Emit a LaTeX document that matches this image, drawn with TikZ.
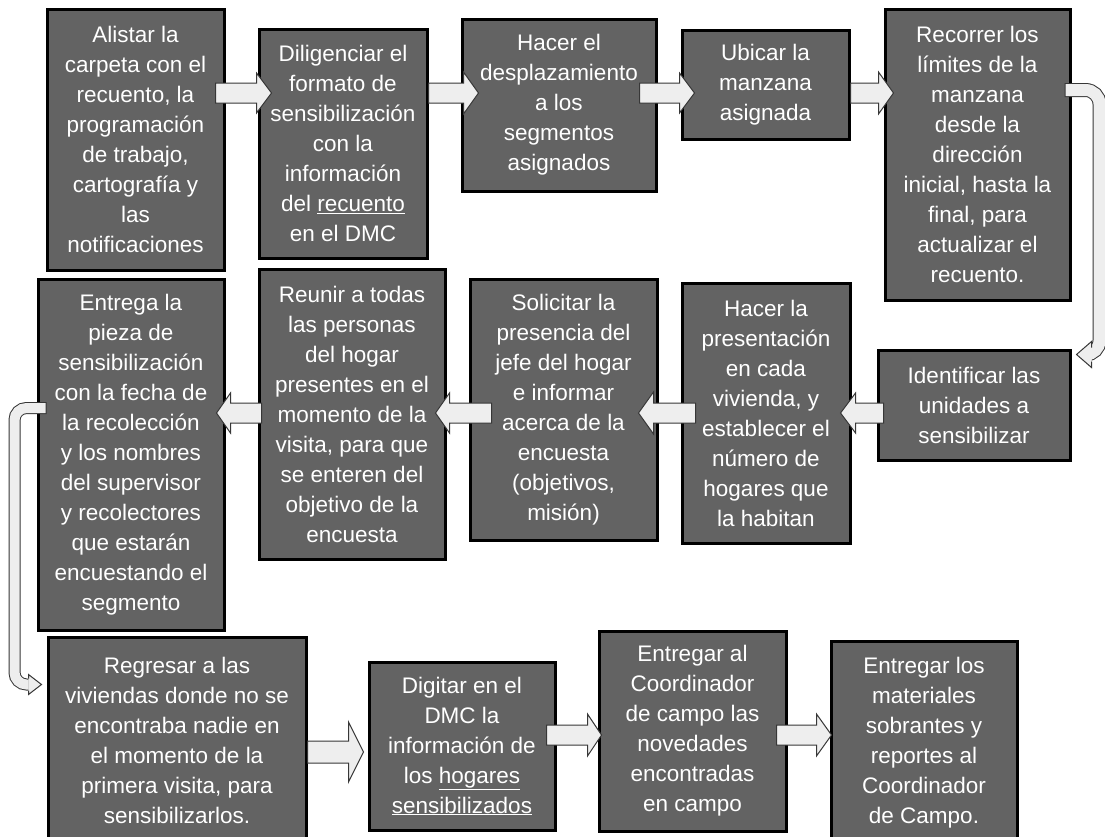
\documentclass[tikz,border=0pt]{standalone}
\usepackage{fontspec}
\setmainfont{Liberation Sans}
\usetikzlibrary{calc}

\definecolor{boxgray}{RGB}{99,99,99}
\definecolor{arrowgray}{RGB}{238,238,238}
\definecolor{edgegray}{RGB}{55,55,55}

\tikzset{
	box/.style={draw=black, line width=3pt, fill=boxgray, text=white, align=center,
		inner sep=0pt, font=\fontsize{22.5}{30}\selectfont},
	fatarrow/.style={draw=edgegray, fill=arrowgray, line width=1pt, line join=miter},
	bandout/.style={draw=edgegray, line width=14pt, rounded corners=14pt},
	bandin/.style={draw=arrowgray, line width=12pt, rounded corners=14pt, shorten <=1pt},
}

% block arrow: from, to, shaft half, head half, head length
\newcommand{\harrow}[5]{%
	\draw[fatarrow] let \p1=#1, \p2=#2, \n1={sign(\x2-\x1)} in
		(\x1,\y2+#3) -- ({\x2-\n1*#5},\y2+#3) -- ({\x2-\n1*#5},\y2+#4) -- (\x2,\y2)
		-- ({\x2-\n1*#5},\y2-#4) -- ({\x2-\n1*#5},\y2-#3) -- (\x1,\y2-#3) -- cycle;
}

\begin{document}
\begin{tikzpicture}[x=1pt, y=-1pt]
			\useasboundingbox (0,0) rectangle (1105,836);
			\clip (0,0) rectangle (1105,836);
			
			% levels of the arrows
			\coordinate (row1) at (0,93);
			\coordinate (row2) at (0,413);
			\coordinate (row3a) at (0,752);
			\coordinate (row3b) at (0,735);
			
			% DRAW BOXES
			\node[box, minimum width=177pt, minimum height=261pt] (n1) at (135.5,139.5) {Alistar la\\carpeta con el\\recuento, la\\programación\\de trabajo,\\cartografía y\\las\\notificaciones};
			\node[box, minimum width=168pt, minimum height=229pt] (n2) at (343,143.5) {Diligenciar el\\formato de\\sensibilización\\con la\\información\\del \underline{recuento}\\en el DMC};
			\node[box, minimum width=194pt, minimum height=172pt] (n3) at (559,105) {Hacer el\\desplazamiento\\a los\\segmentos\\asignados};
			\node[box, minimum width=167pt, minimum height=109pt] (n4) at (765.5,84.5) {Ubicar la\\manzana\\asignada};
			\node[box, minimum width=185pt, minimum height=291pt] (n5) at (977.5,154.5) {Recorrer los\\límites de la\\manzana\\desde la\\dirección\\inicial, hasta la\\final, para\\actualizar el\\recuento.};
			\node[box, minimum width=192pt, minimum height=110pt] (n6) at (974,405) {Identificar las\\unidades a\\sensibilizar};
			\node[box, minimum width=168pt, minimum height=260pt] (n7) at (766,413) {Hacer la\\presentación\\en cada\\vivienda, y\\establecer el\\número de\\hogares que\\la habitan};
			\node[box, minimum width=187pt, minimum height=261pt] (n8) at (563.5,409.5) {Solicitar la\\presencia del\\jefe del hogar\\e informar\\acerca de la\\encuesta\\(objetivos,\\misión)};
			\node[box, minimum width=186pt, minimum height=290pt] (n9) at (352,414) {Reunir a todas\\las personas\\del hogar\\presentes en el\\momento de la\\visita, para que\\se enteren del\\objetivo de la\\encuesta};
			\node[box, minimum width=186pt, minimum height=351pt] (n10) at (131,454.5) {Entrega la\\pieza de\\sensibilización\\con la fecha de\\la recolección\\y los nombres\\del supervisor\\y recolectores\\que estarán\\encuestando el\\segmento};
			\node[box, minimum width=258pt, minimum height=206pt] (n11) at (177,740) {Regresar a las\\viviendas donde no se\\encontraba nadie en\\el momento de la\\primera visita, para\\sensibilizarlos.};
			\node[box, minimum width=186pt, minimum height=168pt] (n12) at (462,746) {Digitar en el\\DMC la\\información de\\los \underline{hogares}\\\underline{sensibilizados}};
			\node[box, minimum width=187pt, minimum height=200pt] (n13) at (692.5,731) {Entregar al\\Coordinador\\de campo las\\novedades\\encontradas\\en campo};
			\node[box, minimum width=186pt, minimum height=204pt] (n14) at (924,743) {Entregar los\\materiales\\sobrantes y\\reportes al\\Coordinador\\de Campo.};
			
			% DRAW ARROWS
			\harrow{($(n1.east |- row1)+(-10,0)$)}{($(n2.west |- row1)+(14,0)$)}{10pt}{20pt}{15pt}
			\harrow{(n2.east |- row1)}{($(n3.west |- row1)+(18,0)$)}{10pt}{21pt}{15pt}
			\harrow{($(n3.east |- row1)+(-18,0)$)}{($(n4.west |- row1)+(14,0)$)}{10pt}{20pt}{15pt}
			\harrow{(n4.east |- row1)}{($(n5.west |- row1)+(10,0)$)}{10pt}{21pt}{15pt}
			
			\harrow{($(n6.west |- row2)+(7,0)$)}{($(n7.east |- row2)+(-11,0)$)}{10pt}{20pt}{15pt}
			\harrow{($(n7.west |- row2)+(15,0)$)}{($(n8.east |- row2)+(-20,0)$)}{10pt}{21pt}{15pt}
			\harrow{($(n8.west |- row2)+(23,0)$)}{($(n9.east |- row2)+(-11,0)$)}{10pt}{20pt}{14pt}
			\harrow{($(n9.west |- row2)+(4,0)$)}{($(n10.east |- row2)+(-9,0)$)}{10pt}{20pt}{14pt}
			
			\harrow{(n11.east |- row3a)}{($(n12.west |- row3a)+(-4,0)$)}{11pt}{30pt}{15pt}
			\harrow{($(n12.east |- row3b)+(-10,0)$)}{($(n13.west |- row3b)+(4,0)$)}{10pt}{21pt}{14pt}
			\harrow{($(n13.east |- row3b)+(-11,0)$)}{($(n14.west |- row3b)+(2,0)$)}{10pt}{21pt}{15pt}
			
			% curved arrow n5 -> n6
			\coordinate (e1) at ($(n5.east |- row1)+(-7,-3)$);
			\coordinate (e2) at ($(n6.north east)+(28,6)$);
			\coordinate (e3) at ($(n6.north east)+(20,6)$);
			\coordinate (e4) at ($(n6.north east)+(5,6)$);
			\draw[bandout] (e1) -| (e2) -- (e3);
			\draw[bandin] (e1) -| (e2) -- (e3);
			\filldraw[fatarrow] ($(e3)+(0,-7)$) -- ($(e3)+(0,-13)$) -- (e4) -- ($(e3)+(0,13)$) -- ($(e3)+(0,7)$);
			
			% curved arrow n10 -> n11
			\coordinate (j1) at ($(n10.west |- row2)+(10,-5)$);
			\coordinate (j2) at ($(n11.north west)+(-32,49)$);
			\coordinate (j3) at ($(n11.north west)+(-18,49)$);
			\coordinate (j4) at ($(n11.north west)+(-5,49)$);
			\draw[bandout, line width=12pt, rounded corners=12pt] (j1) -| (j2) -- (j3);
			\draw[bandin, line width=10pt, rounded corners=12pt] (j1) -| (j2) -- (j3);
			\filldraw[fatarrow] ($(j3)+(0,-6)$) -- ($(j3)+(0,-10)$) -- (j4) -- ($(j3)+(0,10)$) -- ($(j3)+(0,6)$);
		\end{tikzpicture}
\end{document}
